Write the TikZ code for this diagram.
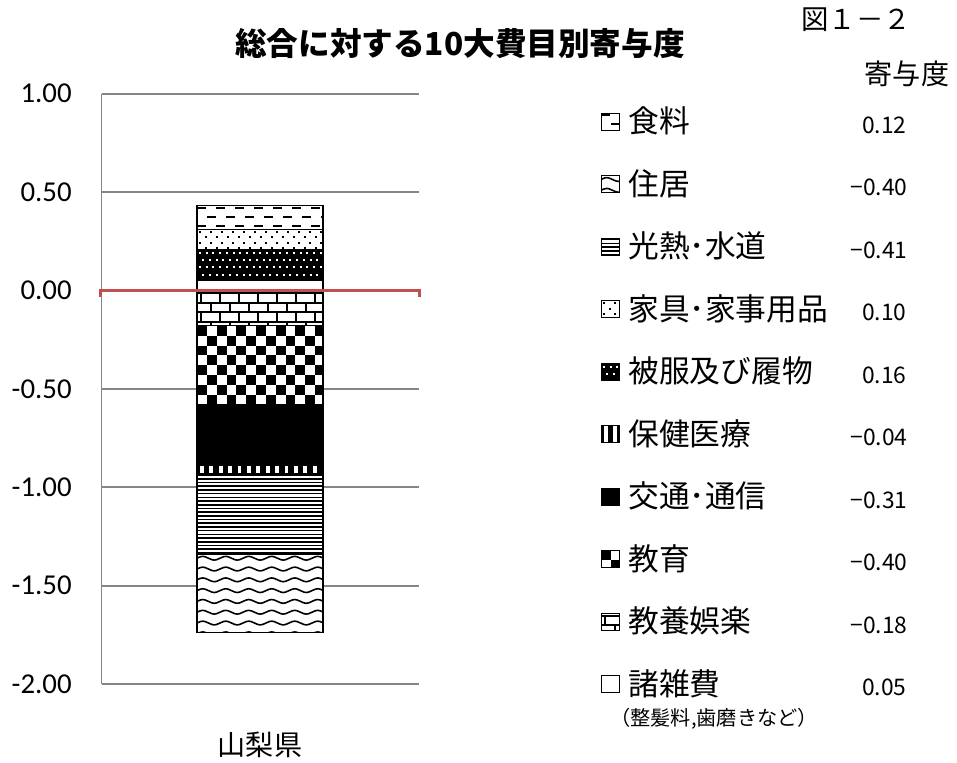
\documentclass[tikz,border=0pt]{standalone}
\usepackage{fontspec}
\setmainfont{Noto Sans CJK JP}
\newfontfamily\axisfont{Carlito}

\definecolor{gridgray}{RGB}{134,134,134}
\definecolor{zerored}{RGB}{192,80,77}

% fill patterns, args: left, top, right, bottom (pixel units, y down)
\newcommand{\patdashes}[4]{%
  \begin{scope}
    \clip (#1,#2) rectangle (#3,#4);
    \fill[white] (#1,#2) rectangle (#3,#4);
    \foreach \row in {0,...,9}
      \foreach \col in {-1,...,7}
        \fill ({#1+\col*19+mod(\row,2)*9.5},{#2+1+\row*9.3}) rectangle ++(9,1.8);
  \end{scope}}
\newcommand{\patdots}[4]{%
  \begin{scope}
    \clip (#1,#2) rectangle (#3,#4);
    \fill[white] (#1,#2) rectangle (#3,#4);
    \foreach \row in {0,...,15}
      \foreach \col in {0,...,12}
        \fill ({#1+2+\col*11+mod(\row,2)*5.5},{#2+1.5+\row*5.5}) rectangle ++(2,2);
  \end{scope}}
\newcommand{\patdense}[4]{%
  \begin{scope}
    \clip (#1,#2) rectangle (#3,#4);
    \fill[black] (#1,#2) rectangle (#3,#4);
    \foreach \row in {0,...,10}
      \foreach \col in {0,...,20}
        \fill[white] ({#1+2+\col*6.7+mod(\row,2)*3.35},{#2+2.5+\row*7.3}) rectangle ++(2,2);
  \end{scope}}
\newcommand{\patbricks}[4]{%
  \begin{scope}
    \clip (#1,#2) rectangle (#3,#4);
    \fill[white] (#1,#2) rectangle (#3,#4);
    \foreach \row in {0,...,8} {
      \fill (#1,{#2+1.5+\row*9.6}) rectangle (#3,{#2+3.5+\row*9.6});
      \foreach \col in {-1,...,7}
        \fill ({#1+3+\col*19+mod(\row,2)*9.5},{#2+1.5+\row*9.6}) rectangle ++(2,9.6);
    }
  \end{scope}}
\newcommand{\patchecker}[4]{%
  \begin{scope}
    \clip (#1,#2) rectangle (#3,#4);
    \fill[white] (#1,#2) rectangle (#3,#4);
    \foreach \row in {0,...,8}
      \foreach \col in {0,...,7}
        \fill ({#1+(2*\col+mod(\row,2))*9.84},{#2+\row*9.84}) rectangle ++(9.84,9.84);
  \end{scope}}
\newcommand{\patsolid}[4]{%
  \fill[black] (#1,#2) rectangle (#3,#4);}
\newcommand{\patvstripes}[4]{%
  \begin{scope}
    \clip (#1,#2) rectangle (#3,#4);
    \fill[black] (#1,#2) rectangle (#3,#4);
    \foreach \col in {0,...,14}
      \fill[white] ({#1+3+\col*9.4},#2) rectangle ++(3.8,20);
  \end{scope}}
\newcommand{\pathlines}[4]{%
  \begin{scope}
    \clip (#1,#2) rectangle (#3,#4);
    \fill[white] (#1,#2) rectangle (#3,#4);
    \foreach \row in {0,...,25}
      \fill (#1,{#2+0.8+\row*3.7}) rectangle (#3,{#2+2.4+\row*3.7});
  \end{scope}}
\newcommand{\patwaves}[4]{%
  \begin{scope}
    \clip (#1,#2) rectangle (#3,#4);
    \fill[white] (#1,#2) rectangle (#3,#4);
    \foreach \row in {0,...,8}
      \draw[line width=0.9pt, rounded corners=1.5pt]
        ({#1-5.75},{#2+6.5+\row*10.8}) \foreach \col in {0,...,7} { -- ++(11.5,-5) -- ++(11.5,5) };
  \end{scope}}

\tikzset{
  gridline/.style={draw=gridgray, line width=1.1pt},
  zeroline/.style={draw=zerored, line width=1.7pt},
  segedge/.style={draw=black, line width=0.6pt},
  keybox/.style={draw=black, line width=0.5pt},
  axislabel/.style={anchor=east, inner sep=0pt, font=\axisfont\fontsize{16.4}{18}\selectfont},
  keylabel/.style={anchor=west, inner sep=0pt, font=\fontsize{17.5}{20}\selectfont},
  keyvalue/.style={anchor=east, inner sep=0pt, font=\fontsize{13}{15}\selectfont},
}

\begin{document}
\begin{tikzpicture}[x=0.02cm, y=-0.02cm]
  \useasboundingbox (0,0) rectangle (957,762);

  % axis and grid
  \foreach \v/\lab [count=\i] in {93.7/1.00, 192.1/0.50, 290.5/0.00, 388.9/-0.50, 487.3/-1.00, 585.7/-1.50, 684.1/-2.00} {
    \draw[gridline] (101.5,\v) -- (419,\v);
    \node[axislabel] (ytick\i) at (72,\v) {\lab};
  }
  \draw[gridline] (101.5,93.7) -- (101.5,684.1);

  % stacked bar, above zero
  \fill[white] (197,290.5) rectangle (323,280.66);
  \patdense{197}{249.17}{323}{280.66}
  \patdots{197}{229.49}{323}{249.17}
  \patdashes{197}{205.88}{323}{229.49}
  % below zero
  \patbricks{197}{290.5}{323}{325.92}
  \patchecker{197}{325.92}{323}{404.64}
  \patsolid{197}{404.64}{323}{465.65}
  \patvstripes{197}{465.65}{323}{473.52}
  \pathlines{197}{473.52}{323}{554.21}
  \patwaves{197}{554.21}{323}{632.93}
  \foreach \ya/\yb in {290.5/280.66, 280.66/249.17, 249.17/229.49, 229.49/205.88,
      290.5/325.92, 325.92/404.64, 404.64/465.65, 465.65/473.52, 473.52/554.21, 554.21/632.93}
    \draw[segedge] (197,\ya) rectangle (323,\yb);

  \draw[zeroline] (100.5,297) -- (100.5,290.5) -- (419.5,290.5) -- (419.5,297);

  \node[inner sep=0pt] (cat) at (260,745) {\fontsize{16}{18}\selectfont 山梨県};

  % titles
  \node[inner sep=0pt] (title) at (460,44) {\bfseries\fontsize{18}{20}\selectfont 総合に対する10大費目別寄与度};
  \node[inner sep=0pt] (fignum) at (856,20) {\fontsize{15.6}{18}\selectfont 図１－２};
  \node[inner sep=0pt] (unit) at (907,74) {\fontsize{16}{18}\selectfont 寄与度};

  % legend
  \patdashes{601}{113}{619}{130}
  \patwaves{601}{175.5}{619}{192.5}
  \pathlines{601}{238}{619}{255}
  \patdots{601}{300.5}{619}{317.5}
  \patdense{601}{363}{619}{380}
  \patvstripes{601}{425.5}{619}{442.5}
  \patsolid{601}{488}{619}{505}
  \patchecker{601}{550.5}{619}{567.5}
  \patbricks{601}{613}{619}{630}
  \fill[white] (601,675.5) rectangle (619,692.5);
  \foreach \ky in {113, 175.5, 238, 300.5, 363, 425.5, 488, 550.5, 613, 675.5}
    \draw[keybox] (601,\ky) rectangle ++(18,17);

  \node[keylabel] (keyFood) at (628,121) {食料};
  \node[keylabel] (keyHousing) at (628,183.5) {住居};
  \node[keylabel] (keyUtil) at (628,246) {光熱･水道};
  \node[keylabel] (keyFurn) at (628,308.5) {家具･家事用品};
  \node[keylabel] (keyCloth) at (628,371) {被服及び履物};
  \node[keylabel] (keyMedic) at (628,433.5) {保健医療};
  \node[keylabel] (keyTrans) at (628,496) {交通･通信};
  \node[keylabel] (keyEdu) at (628,558.5) {教育};
  \node[keylabel] (keyCult) at (628,621) {教養娯楽};
  \node[keylabel] (keyMisc) at (628,683.5) {諸雑費};
  \node[anchor=west, inner sep=0pt] (note) at (610,719) {\fontsize{11.5}{13}\selectfont （整髪料,歯磨きなど）};

  \node[keyvalue] (valFood) at (907,125) {0.12};
  \node[keyvalue] (valHousing) at (908,187.5) {−0.40};
  \node[keyvalue] (valUtil) at (908,250) {−0.41};
  \node[keyvalue] (valFurn) at (907,312.5) {0.10};
  \node[keyvalue] (valCloth) at (907,375) {0.16};
  \node[keyvalue] (valMedic) at (908,437.5) {−0.04};
  \node[keyvalue] (valTrans) at (908,500) {−0.31};
  \node[keyvalue] (valEdu) at (908,562.5) {−0.40};
  \node[keyvalue] (valCult) at (908,625) {−0.18};
  \node[keyvalue] (valMisc) at (907,687.5) {0.05};
\end{tikzpicture}
\end{document}
